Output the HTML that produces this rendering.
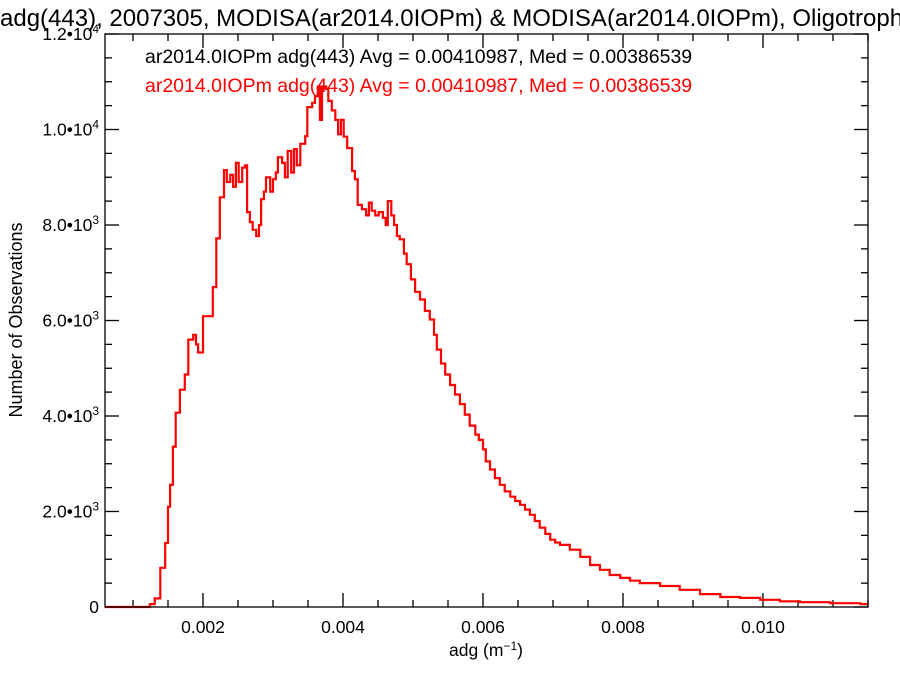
<!DOCTYPE html>
<html><head><meta charset="utf-8"><style>
body{margin:0;background:#fff;}
svg{display:block;font-family:"Liberation Sans",sans-serif;}
</style></head><body>
<svg id="chart" width="900" height="675" viewBox="0 0 900 675">
<text x="0" y="26" font-size="24" fill="#000">adg(443), 2007305, MODISA(ar2014.0IOPm) &amp; MODISA(ar2014.0IOPm), Oligotrophic</text>
<g id="axes"></g>
<path id="hist" fill="none" stroke="#ff0000" stroke-width="2.2"></path>
<rect x="105" y="34" width="763" height="573" fill="none" stroke="#000" stroke-width="1.3"></rect>
<text x="145" y="63" font-size="19.5" fill="#000">ar2014.0IOPm adg(443) Avg = 0.00410987, Med = 0.00386539</text>
<text x="145" y="92" font-size="19.5" fill="#ff0000">ar2014.0IOPm adg(443) Avg = 0.00410987, Med = 0.00386539</text>
<text x="486" y="656" font-size="17.5" text-anchor="middle">adg (m<tspan font-size="12" dy="-6">−1</tspan><tspan dy="6">)</tspan></text>
<text transform="translate(22,320) rotate(-90)" font-size="18" text-anchor="middle">Number of Observations</text>
</svg>
<script>
const binStarts=[0.00060,0.00124,0.00131,0.00139,0.00146,0.00150,0.00153,0.00157,0.00161,0.00167,0.00174,0.00179,0.00186,0.00190,0.00193,0.00200,0.00214,0.00219,0.00224,0.00230,0.00234,0.00239,0.00243,0.00247,0.00251,0.00256,0.00260,0.00263,0.00267,0.00271,0.00276,0.00280,0.00283,0.00287,0.00290,0.00296,0.00300,0.00304,0.00307,0.00313,0.00317,0.00321,0.00326,0.00330,0.00334,0.00339,0.00346,0.00349,0.00356,0.00360,0.00364,0.00367,0.00370,0.00376,0.00379,0.00384,0.00389,0.00393,0.00397,0.00401,0.00406,0.00413,0.00417,0.00421,0.00427,0.00433,0.00437,0.00441,0.00446,0.00451,0.00457,0.00461,0.00464,0.00469,0.00473,0.00477,0.00481,0.00487,0.00491,0.00497,0.00503,0.00510,0.00517,0.00524,0.00530,0.00534,0.00540,0.00546,0.00553,0.00560,0.00567,0.00574,0.00581,0.00589,0.00594,0.00600,0.00604,0.00610,0.00617,0.00624,0.00631,0.00639,0.00646,0.00653,0.00660,0.00667,0.00674,0.00681,0.00689,0.00696,0.00703,0.00710,0.00724,0.00739,0.00753,0.00767,0.00781,0.00796,0.00810,0.00824,0.00853,0.00881,0.00910,0.00939,0.00967,0.00996,0.01024,0.01053,0.01096,0.01139];
const counts=[0,60,180,820,1340,2100,2560,3360,4070,4550,4870,5600,5700,5500,5330,6090,6700,7720,8580,9150,8900,9050,8800,9300,8900,9200,9250,8270,8060,7900,7770,8000,8540,8700,9000,8700,8960,9100,9420,9300,9000,9550,9100,9590,9250,9700,9860,10470,10560,10700,10900,10200,10900,10850,10600,10400,10200,9900,10200,9850,9610,9130,8960,8420,8330,8200,8470,8300,8200,8270,8150,8000,8500,8200,8000,7770,7700,7400,7180,6860,6600,6440,6200,6020,5700,5390,5100,4870,4650,4450,4250,4030,3800,3610,3500,3300,3050,2880,2700,2560,2420,2310,2220,2140,2040,1930,1800,1660,1530,1410,1350,1300,1200,1050,880,780,670,610,550,500,440,360,270,210,190,150,120,100,80,60];
const lastEdge=0.0115;
const xTickVals=[0.002,0.004,0.006,0.008,0.010];
const xTickLabels=["0.002","0.004","0.006","0.008","0.010"];
const yTickVals=[0,2000,4000,6000,8000,10000,12000];
const yTickMant=["0","2.0","4.0","6.0","8.0","1.0","1.2"];
const yTickExp=["","3","3","3","3","4","4"];
const X0=105,X1=868,Y0=607,Y1=34,XMIN=0.0006,XMAX=0.0115,YMIN=0,YMAX=12000;
function sx(v){return X0+(v-XMIN)/(XMAX-XMIN)*(X1-X0);}
function sy(v){return Y0-(v-YMIN)/(YMAX-YMIN)*(Y0-Y1);}
const NS="http://www.w3.org/2000/svg";
const axes=document.getElementById('axes');
function line(x1,y1,x2,y2,name){const l=document.createElementNS(NS,'line');
l.setAttribute('x1',x1);l.setAttribute('y1',y1);l.setAttribute('x2',x2);l.setAttribute('y2',y2);
l.setAttribute('stroke','#000');l.setAttribute('stroke-width','1.3');


axes.appendChild(l);}
for(let v=0.001;v<=XMAX+1e-9;v+=0.0005){const x=sx(v);const maj=Math.abs(v/0.002-Math.round(v/0.002))<1e-6;const L=maj?14:7;
line(x,Y0,x,Y0-L,'x-tick');line(x,Y1,x,Y1+L,'x-tick-top');}
for(let v=0;v<=YMAX;v+=500){const y=sy(v);const maj=v%2000===0;const L=maj?14:7;
line(X0,y,X0+L,y,'y-tick');line(X1,y,X1-L,y,'y-tick-right');}
xTickVals.forEach((v,i)=>{const t=document.createElementNS(NS,'text');
t.setAttribute('x',sx(v));t.setAttribute('y',633);t.setAttribute('font-size','17.5');t.setAttribute('text-anchor','middle');
t.textContent=xTickLabels[i];


axes.appendChild(t);});
yTickVals.forEach((v,i)=>{const t=document.createElementNS(NS,'text');
t.setAttribute('x',99);t.setAttribute('y',sy(v)+6);t.setAttribute('font-size','17.5');t.setAttribute('text-anchor','end');
if(yTickExp[i]){t.innerHTML=yTickMant[i]+'•10<tspan font-size="12" dy="-7">'+yTickExp[i]+'</tspan>';}
else t.textContent=yTickMant[i];


axes.appendChild(t);});
let d='';
for(let i=0;i<counts.length;i++){const xa=sx(binStarts[i]);const xb=sx(i+1<binStarts.length?binStarts[i+1]:lastEdge);const y=sy(counts[i]);
d+=(i===0?'M':'L')+xa.toFixed(1)+','+y.toFixed(1)+'L'+xb.toFixed(1)+','+y.toFixed(1);}
document.getElementById('hist').setAttribute('d',d);
</script>
</body></html>
